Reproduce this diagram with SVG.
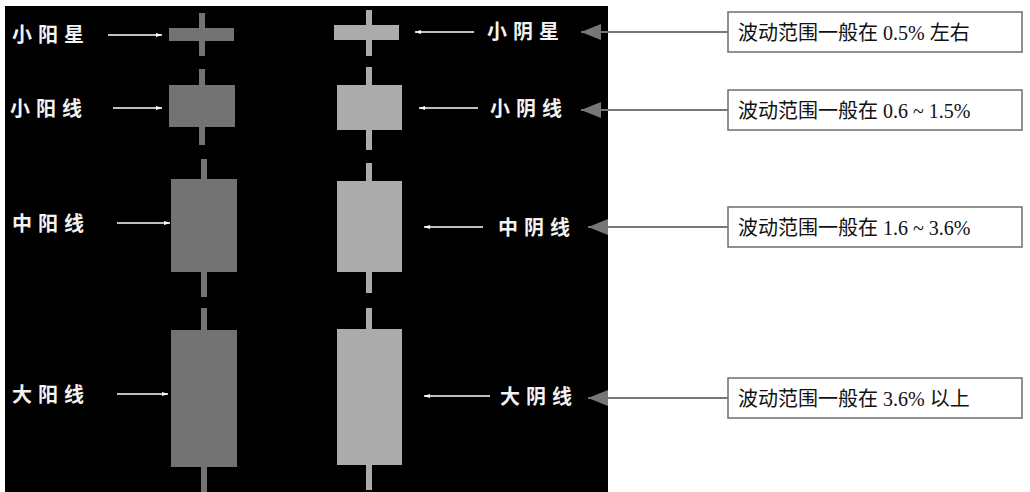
<svg xmlns="http://www.w3.org/2000/svg" width="1030" height="492" viewBox="0 0 1030 492">
<style>
.lab{font-family:"Noto Sans CJK SC",sans-serif;font-size:20px;font-weight:bold;fill:#f2f2f2;letter-spacing:6px}
.yang{fill:#737373}
.yin{fill:#ababab}
.box{fill:#fff;stroke:#6e6e6e;stroke-width:1.5}
.bt{font-family:"Liberation Serif","Noto Sans CJK SC",serif;font-size:20px;fill:#111}
.wa{stroke:#fff;stroke-width:1.5;fill:none}
.ga{stroke:#777;stroke-width:2;fill:none}
</style>
<defs>
<marker id="w" markerWidth="6" markerHeight="4" refX="6" refY="2" orient="auto" markerUnits="userSpaceOnUse"><path d="M0,0L6,2L0,4z" fill="#fff"/></marker>
<marker id="g" markerWidth="22" markerHeight="16" refX="20" refY="8" orient="auto" markerUnits="userSpaceOnUse"><path d="M0,0L20,8L0,16z" fill="#777"/></marker>
</defs>
<rect width="1030" height="492" fill="#fff"/>
<rect x="5" y="6" width="603" height="486" fill="#000"/>
<g id="yang-candles">
<rect class="yang" x="199" y="13" width="6" height="43"/><rect class="yang" x="169" y="28" width="65" height="13"/>
<rect class="yang" x="199" y="69" width="6" height="76"/><rect class="yang" x="169" y="85" width="66" height="42"/>
<rect class="yang" x="201" y="159" width="6" height="138"/><rect class="yang" x="171" y="179" width="66" height="93"/>
<rect class="yang" x="201" y="308" width="6" height="184"/><rect class="yang" x="171" y="330" width="66" height="137"/>
</g>
<g id="yin-candles">
<rect class="yin" x="366" y="10" width="6" height="46"/><rect class="yin" x="334" y="25" width="65" height="15"/>
<rect class="yin" x="366" y="67" width="6" height="83"/><rect class="yin" x="337" y="85" width="65" height="45"/>
<rect class="yin" x="366" y="163" width="6" height="130"/><rect class="yin" x="337" y="181" width="65" height="91"/>
<rect class="yin" x="366" y="308" width="6" height="182"/><rect class="yin" x="337" y="329" width="65" height="136"/>
</g>
<g id="labels">
<text class="lab" x="12" y="42">小阳星</text>
<text class="lab" x="10" y="116">小阳线</text>
<text class="lab" x="12" y="231">中阳线</text>
<text class="lab" x="12" y="402">大阳线</text>
<text class="lab" x="487" y="39">小阴星</text>
<text class="lab" x="490" y="116">小阴线</text>
<text class="lab" x="498" y="235">中阴线</text>
<text class="lab" x="500" y="404">大阴线</text>
</g>
<g id="boxes">
<rect class="box" x="728" y="12" width="294" height="40"/><text class="bt" x="738" y="40">波动范围一般在 0.5% 左右</text>
<rect class="box" x="728" y="90" width="294" height="40"/><text class="bt" x="738" y="118">波动范围一般在 0.6 ~ 1.5%</text>
<rect class="box" x="728" y="207" width="294" height="40"/><text class="bt" x="738" y="235">波动范围一般在 1.6 ~ 3.6%</text>
<rect class="box" x="728" y="378" width="294" height="40"/><text class="bt" x="738" y="406">波动范围一般在 3.6% 以上</text>
</g>
<g id="connectors">
<path class="wa" d="M108,35H162" marker-end="url(#w)"/>
<path class="wa" d="M113,108H162" marker-end="url(#w)"/>
<path class="wa" d="M117,223H170" marker-end="url(#w)"/>
<path class="wa" d="M117,394H168" marker-end="url(#w)"/>
<path class="wa" d="M474,32H415" marker-end="url(#w)"/>
<path class="wa" d="M478,108H419" marker-end="url(#w)"/>
<path class="wa" d="M483,227H424" marker-end="url(#w)"/>
<path class="wa" d="M490,396H424" marker-end="url(#w)"/>
<path class="ga" d="M728,32H581" marker-end="url(#g)"/>
<path class="ga" d="M728,110H581" marker-end="url(#g)"/>
<path class="ga" d="M728,227H588" marker-end="url(#g)"/>
<path class="ga" d="M728,398H588" marker-end="url(#g)"/>
</g>
</svg>
